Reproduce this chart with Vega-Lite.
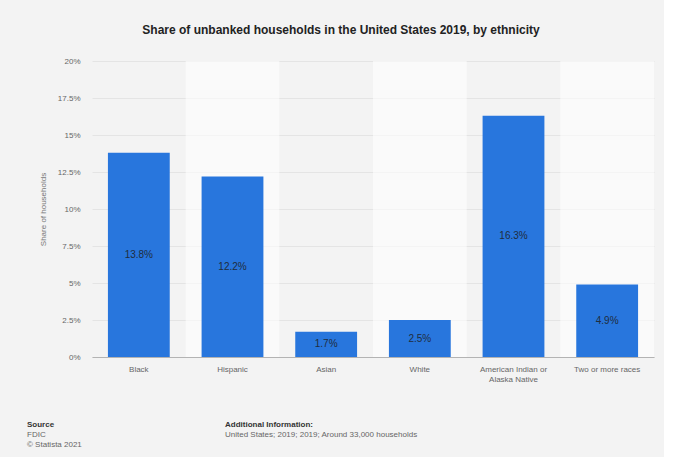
{
  "$schema": "https://vega.github.io/schema/vega-lite/v6.json",
  "background": "#f3f3f3",
  "padding": {"left": 27, "top": 24, "right": 10, "bottom": 5},
  "config": {
    "view": {"stroke": null},
    "font": "Liberation Sans",
    "axisY": {
      "grid": true, "gridColor": "#e4e4e4",
      "domain": false, "ticks": false,
      "labelFontSize": 8, "labelColor": "#666", "labelPadding": 12,
      "titleFontSize": 8, "titleColor": "#777", "titleFontWeight": "normal",
      "titlePadding": 10
    }
  },
  "bounds": "flush",
  "spacing": 94,
  "vconcat": [
    {
      "width": 562,
      "height": 296,
      "title": {
        "text": "Share of unbanked households in the United States 2019, by ethnicity",
        "fontSize": 12, "fontWeight": "bold", "color": "#222",
        "anchor": "middle", "frame": "group", "dx": -32, "offset": 20
      },
      "data": {"values": [
        {"category": "Black", "share": 0.138},
        {"category": "Hispanic", "share": 0.122},
        {"category": "Asian", "share": 0.017},
        {"category": "White", "share": 0.025},
        {"category": "American Indian or Alaska Native", "share": 0.163},
        {"category": "Two or more races", "share": 0.049}
      ]},
      "encoding": {
        "x": {
          "field": "category", "type": "nominal", "sort": null,
          "scale": {"paddingInner": 0, "paddingOuter": 0},
          "axis": {
            "title": null, "labelAngle": 0, "ticks": false, "grid": false,
            "domain": true, "domainColor": "#b3b3b3",
            "labelFontSize": 8, "labelColor": "#666", "labelPadding": 8,
            "labelLimit": 120,
            "labelExpr": "datum.value == 'American Indian or Alaska Native' ? ['American Indian or', 'Alaska Native'] : datum.label"
          }
        }
      },
      "layer": [
        {
          "mark": {"type": "rect", "fill": "white"},
          "encoding": {
            "y": {"datum": 0.2, "type": "quantitative", "scale": {"domain": [0, 0.2], "nice": false}, "title": "Share of households",
              "axis": {"values": [0, 0.025, 0.05, 0.075, 0.1, 0.125, 0.15, 0.175, 0.2], "format": ".1~%"}},
            "y2": {"datum": 0},
            "opacity": {
              "condition": {"test": "indexof(['Hispanic', 'White', 'Two or more races'], datum.category) >= 0", "value": 0.6},
              "value": 0
            }
          }
        },
        {
          "mark": {"type": "bar", "color": "#2876dd", "width": {"band": 0.66}},
          "encoding": {
            "y": {"field": "share", "type": "quantitative", "scale": {"domain": [0, 0.2], "nice": false}, "title": "Share of households",
              "axis": {"values": [0, 0.025, 0.05, 0.075, 0.1, 0.125, 0.15, 0.175, 0.2], "format": ".1~%"}}
          }
        },
        {
          "transform": [{"calculate": "datum.share / 2", "as": "mid"}],
          "mark": {"type": "text", "fontSize": 10, "color": "#1f2d3d", "baseline": "middle"},
          "encoding": {
            "y": {"field": "mid", "type": "quantitative", "scale": {"domain": [0, 0.2], "nice": false}, "title": "Share of households",
              "axis": {"values": [0, 0.025, 0.05, 0.075, 0.1, 0.125, 0.15, 0.175, 0.2], "format": ".1~%"}},
            "text": {"field": "share", "type": "quantitative", "format": ".1%"}
          }
        }
      ]
    },
    {
      "bounds": "flush",
      "spacing": 13,
      "hconcat": [
        {
          "width": 120, "height": 1,
          "data": {"values": []},
          "mark": "rule",
          "encoding": {},
          "title": {
            "text": "Source", "subtitle": ["FDIC", "© Statista 2021"],
            "anchor": "start", "frame": "group", "dx": -65, "offset": 2,
            "fontSize": 8, "fontWeight": "bold", "color": "#333",
            "subtitleFontSize": 8, "subtitleColor": "#666", "subtitlePadding": 2
          }
        },
        {
          "width": 250, "height": 1,
          "data": {"values": []},
          "mark": "rule",
          "encoding": {},
          "title": {
            "text": "Additional Information:", "subtitle": ["United States; 2019; 2019; Around 33,000 households", " "],
            "anchor": "start", "frame": "group", "offset": 2,
            "fontSize": 8, "fontWeight": "bold", "color": "#333",
            "subtitleFontSize": 8, "subtitleColor": "#666", "subtitlePadding": 2
          }
        }
      ]
    }
  ]
}
